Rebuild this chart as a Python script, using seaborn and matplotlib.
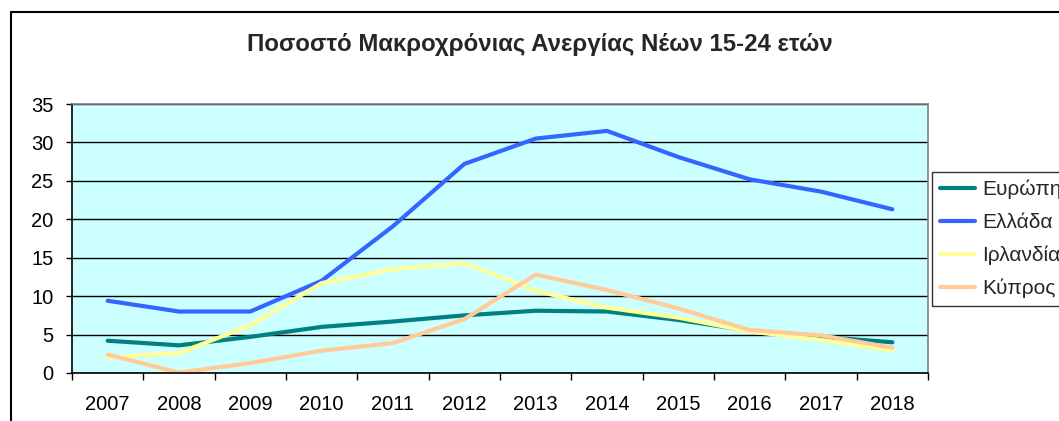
import matplotlib
matplotlib.use("Agg")
import matplotlib.pyplot as plt
from matplotlib.lines import Line2D
import seaborn as sns
import pandas as pd
import numpy as np

years = ["2007", "2008", "2009", "2010", "2011", "2012", "2013", "2014", "2015", "2016", "2017", "2018"]
europe = [4.2, 3.6, 4.7, 6.0, 6.7, 7.5, 8.1, 8.0, 6.9, 5.5, 4.7, 4.0]
greece = [9.4, 8.0, 8.0, 12.0, 19.1, 27.2, 30.5, 31.5, 28.1, 25.2, 23.6, 21.3]
ireland = [2.0, 2.6, 6.2, 11.7, 13.5, 14.3, 10.7, 8.5, 7.2, 5.4, 4.3, 2.9]
cyprus = [2.4, 0.05, 1.3, 2.9, 3.9, 7.0, 12.8, 10.8, 8.4, 5.6, 4.9, 3.3]
series_names = ["Ευρώπη", "Ελλάδα", "Ιρλανδία", "Κύπρος"]
colors = ["#008080", "#3366FF", "#FFFF99", "#FFCC99"]
title = "Ποσοστό Μακροχρόνιας Ανεργίας Νέων 15-24 ετών"

sns.set_style("white")
plt.rcParams["font.family"] = ["Liberation Sans", "DejaVu Sans"]

rows = []
for name, vals in zip(series_names, [europe, greece, ireland, cyprus]):
    for i, v in enumerate(vals):
        rows.append({"x": i, "value": v, "series": name})
df = pd.DataFrame(rows)

W, H = 1059, 421
fig = plt.figure(figsize=(W / 100, H / 100), dpi=100)
fig.patch.set_facecolor("white")
ax = fig.add_axes([72 / W, 1 - 373 / H, (928 - 72) / W, (373 - 104) / H])
ax.set_facecolor("#CCFFFF")

sns.lineplot(data=df, x="x", y="value", hue="series", palette=dict(zip(series_names, colors)),
             hue_order=series_names, linewidth=3, ax=ax, legend=False)

ax.set_xlim(-0.5, len(years) - 0.5)
ax.set_ylim(0, 35)
ax.set_yticks(np.arange(0, 36, 5))
ax.set_xticks(np.arange(-0.5, len(years), 1.0))
ax.set_xticklabels([])
ax.set_xticks(np.arange(len(years)), minor=True)
ax.set_xticklabels(years, minor=True)
ax.tick_params(axis="x", which="major", direction="out", length=5, width=1, color="black", bottom=True)
ax.tick_params(axis="x", which="minor", length=0, pad=16, labelsize=14.5, labelcolor="black")
ax.tick_params(axis="y", direction="out", length=4.3, width=1, color="black", pad=9, labelsize=14.5, left=True, labelcolor="black")
ax.set_xlabel("")
ax.set_ylabel("")

ax.set_axisbelow(True)
ax.yaxis.grid(True, color="black", linewidth=1)
ax.xaxis.grid(False)
for s in ["left", "bottom"]:
    ax.spines[s].set_color("black")
    ax.spines[s].set_linewidth(1.2)
for s in ["top", "right"]:
    ax.spines[s].set_color("#808080")
    ax.spines[s].set_linewidth(1.2)

handles = [Line2D([], [], color=c, linewidth=3) for c in colors]
leg = fig.legend(handles, series_names, loc="upper left", bbox_to_anchor=(932 / W, 1 - 172 / H),
                 bbox_transform=fig.transFigure, borderaxespad=0, frameon=True, fancybox=False,
                 fontsize=15, handlelength=1.68, handletextpad=0.37, labelspacing=0.66,
                 borderpad=0.37, handleheight=0.7)
leg.get_frame().set_edgecolor("black")
leg.get_frame().set_linewidth(1)

fig.text(540 / W, 1 - 45 / H, title, ha="center", va="center", fontsize=17.3, fontweight="bold")

# outer chart border (cropped chart area)
fig.add_artist(Line2D([11 / W, 11 / W], [0, 1 - 12 / H], transform=fig.transFigure, color="black", linewidth=1.5))
fig.add_artist(Line2D([11 / W, 1], [1 - 12 / H, 1 - 12 / H], transform=fig.transFigure, color="black", linewidth=1.5))

fig.savefig("out.png", dpi=100)
